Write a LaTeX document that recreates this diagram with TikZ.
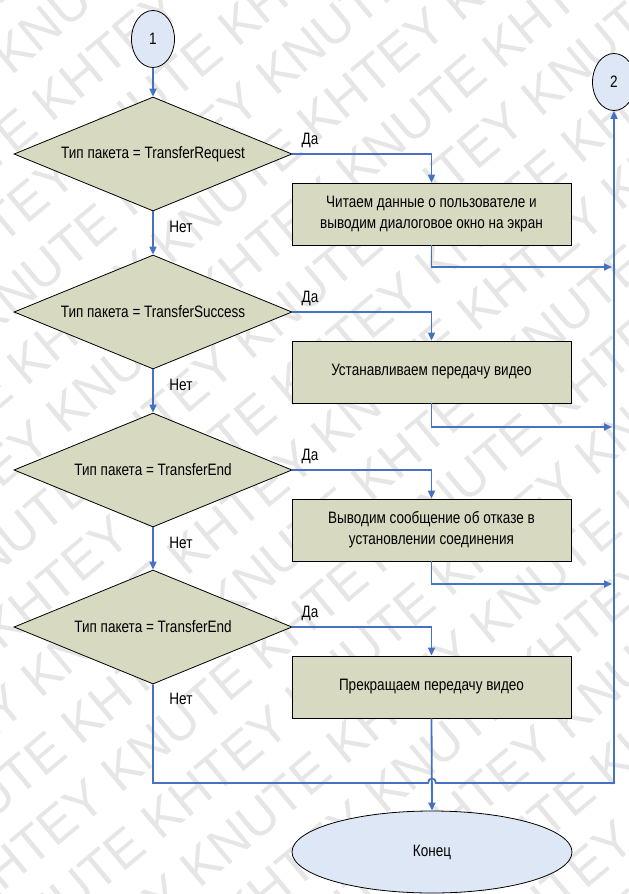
\documentclass[tikz,border=0pt]{standalone}
\usepackage{fontspec}
\setmainfont[FakeStretch=0.82]{Liberation Sans}
\newfontfamily\markfont{Liberation Sans}
\usetikzlibrary{shapes.geometric,arrows.meta,calc}
\definecolor{flowline}{RGB}{70,114,196}
\definecolor{stepfill}{RGB}{215,217,193}
\definecolor{termfill}{RGB}{222,231,245}
\definecolor{markgray}{RGB}{230,230,230}

\begin{document}
\begin{tikzpicture}[x=1pt,y=-1pt,
  every node/.style={font=\fontsize{16.5}{21}\selectfont},
  decision/.style={diamond, draw=black, line width=0.8pt, fill=stepfill,
    minimum width=278pt, minimum height=114pt, inner sep=0pt, aspect=2.44},
  action/.style={rectangle, draw=black, line width=0.8pt, fill=stepfill,
    minimum width=279pt, minimum height=62pt, align=center, inner sep=0pt},
  connector/.style={ellipse, draw=black, line width=0.8pt, fill=termfill,
    minimum width=43pt, minimum height=57pt, inner sep=0pt},
  terminal/.style={ellipse, draw=black, line width=0.8pt, fill=termfill,
    minimum width=280pt, minimum height=82pt, inner sep=0pt},
  flow/.style={draw=flowline, line width=1.8pt, -{Triangle[length=8pt,width=7pt]}},
  lbl/.style={inner sep=0pt},
  stamp/.style={font=\markfont\fontsize{52}{52}\selectfont, text=markgray,
    rotate=40, inner sep=0pt}
]
\useasboundingbox (0,0) rectangle (629,894);

% background stamp, rows running up to the right
\begin{scope}
\clip (0,0) rectangle (629,894);
\foreach \k in {0,...,18} {
  \pgfmathsetmacro{\shift}{mod(\k,2)*190}
  \node[stamp] (wm-\k) at ($(314,447) + {(\k-9)*62}*(0.643,0.766) + {\shift}*(0.766,-0.643)$)
    {KHTEY KNUTE KHTEY KNUTE KHTEY KNUTE KHTEY KNUTE};
}
\end{scope}

% connectors and terminal
\node[connector] (c1) at (153,39) {1};
\node[connector] (c2) at (614,82) {2};
\node[terminal] (end) at (432,852) {Конец};

% decisions
\node[decision] (d1) at (153,154) {Тип пакета = TransferRequest};
\node[decision] (d2) at (153,312) {Тип пакета = TransferSuccess};
\node[decision] (d3) at (153,470) {Тип пакета = TransferEnd};
\node[decision] (d4) at (153,627) {Тип пакета = TransferEnd};

% actions
\node[action] (b1) at (431.5,214) {Читаем данные о пользователе и\\выводим диалоговое окно на экран};
\node[action] (b2) at (431.5,372) {Устанавливаем передачу видео};
\node[action] (b3) at (431.5,530) {Выводим сообщение об отказе в\\установлении соединения};
\node[action] (b4) at (431.5,687) {Прекращаем передачу видео};

% points on the return line
\coordinate (r1) at (612,267);
\coordinate (r2) at (612,427);
\coordinate (r3) at (612,584);
\coordinate (lb) at (153,783);
\coordinate (rb) at (614,783);
\coordinate (hl) at (428,783);
\coordinate (hr) at (436,783);

% "no" branches
\draw[flow] (c1) -- (d1);
\draw[flow] (d1) -- (d2);
\draw[flow] (d2) -- (d3);
\draw[flow] (d3) -- (d4);

% "yes" branches
\draw[flow] (d1.east) -| (b1.north);
\draw[flow] (d2.east) -| (b2.north);
\draw[flow] (d3.east) -| (b3.north);
\draw[flow] (d4.east) -| (b4.north);

% back to connector 2
\draw[flow] (b1.south) |- (r1);
\draw[flow] (b2.south) |- (r2);
\draw[flow] (b3.south) |- (r3);
\draw[flow] (d4.south) -- (lb) -- (hl) .. controls (428,777) and (436,777) .. (hr) -- (rb) -- (c2.south);

% to the end
\draw[flow] (b4.south) -- (end.north);

% branch labels
\node[lbl] (y1) at (310,140) {Да};
\node[lbl] (y2) at (310,298) {Да};
\node[lbl] (y3) at (310,456) {Да};
\node[lbl] (y4) at (310,613) {Да};
\node[lbl] (n1) at (181,227) {Нет};
\node[lbl] (n2) at (181,385) {Нет};
\node[lbl] (n3) at (181,543) {Нет};
\node[lbl] (n4) at (181,699) {Нет};
\end{tikzpicture}
\end{document}
